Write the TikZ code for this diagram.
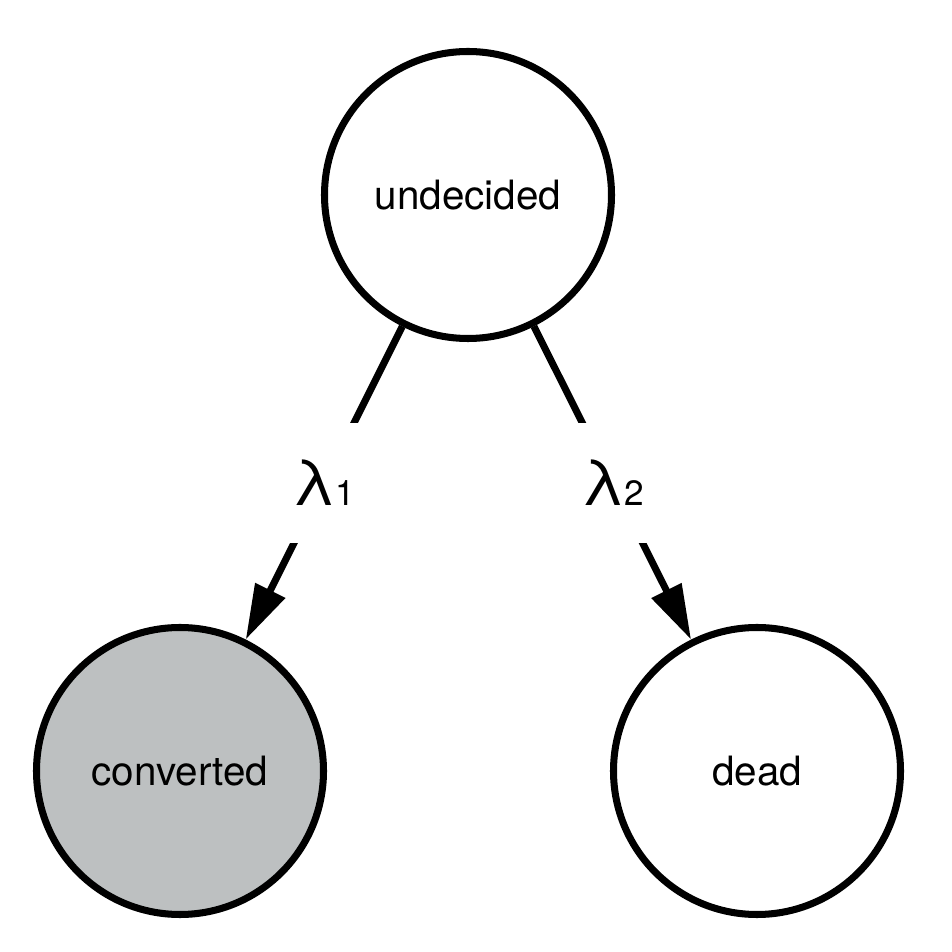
\documentclass[tikz,border=0pt]{standalone}
\usepackage{fontspec}
\setmainfont{TeX Gyre Heros}
\usetikzlibrary{arrows.meta}
\definecolor{huise}{RGB}{189,192,193}
\newcommand{\lvsub}[1]{{\fontsize{10pt}{10pt}\selectfont #1}}

\begin{document}
\begin{tikzpicture}[line width=2pt,>={Triangle[length=5.5mm,width=3.2mm]}]
	\tikzstyle{zhuang}=[circle,draw,fill=white,minimum size=2.87cm,inner sep=0pt,font=\fontsize{11.5pt}{12pt}\selectfont];
	\tikzstyle{lv}=[fill=white,inner sep=0pt,minimum width=7mm,minimum height=12mm,font=\fontsize{18pt}{18pt}\selectfont];
	\useasboundingbox (0,0) rectangle (9.52,9.52);
	%% states
	\node[zhuang]            (undecided) at (4.68,7.57) {undecided};
	\node[zhuang,fill=huise] (converted) at (1.80,1.81) {converted};
	\node[zhuang]            (dead)      at (7.57,1.81) {dead};
	%% rates
	\draw[->] (undecided) -- node[lv]{λ\lvsub{1}} (converted);
	\draw[->] (undecided) -- node[lv]{λ\lvsub{2}} (dead);
\end{tikzpicture}
\end{document}
